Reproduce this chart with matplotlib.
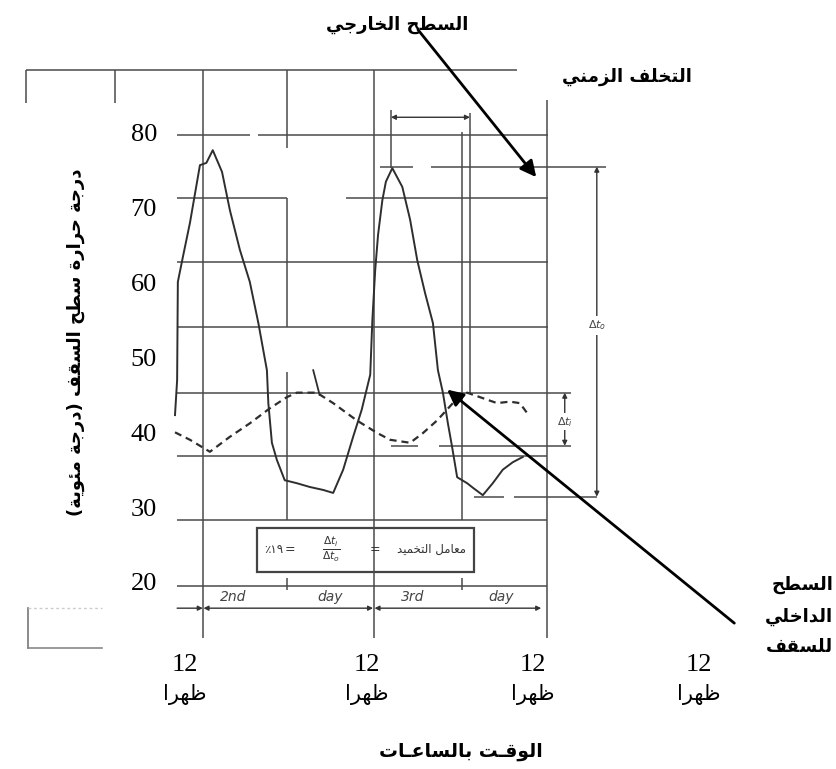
import matplotlib
matplotlib.use('Agg')
import matplotlib.pyplot as plt
from matplotlib.patches import Rectangle

# ---------------- Arabic shaping helpers (visual order) ----------------
FORMS = {
    'ء': ('\uFE80', None, None, None),
    'آ': ('\uFE81', '\uFE82', None, None),
    'أ': ('\uFE83', '\uFE84', None, None),
    'ؤ': ('\uFE85', '\uFE86', None, None),
    'إ': ('\uFE87', '\uFE88', None, None),
    'ئ': ('\uFE89', '\uFE8A', '\uFE8B', '\uFE8C'),
    'ا': ('\uFE8D', '\uFE8E', None, None),
    'ب': ('\uFE8F', '\uFE90', '\uFE91', '\uFE92'),
    'ة': ('\uFE93', '\uFE94', None, None),
    'ت': ('\uFE95', '\uFE96', '\uFE97', '\uFE98'),
    'ث': ('\uFE99', '\uFE9A', '\uFE9B', '\uFE9C'),
    'ج': ('\uFE9D', '\uFE9E', '\uFE9F', '\uFEA0'),
    'ح': ('\uFEA1', '\uFEA2', '\uFEA3', '\uFEA4'),
    'خ': ('\uFEA5', '\uFEA6', '\uFEA7', '\uFEA8'),
    'د': ('\uFEA9', '\uFEAA', None, None),
    'ذ': ('\uFEAB', '\uFEAC', None, None),
    'ر': ('\uFEAD', '\uFEAE', None, None),
    'ز': ('\uFEAF', '\uFEB0', None, None),
    'س': ('\uFEB1', '\uFEB2', '\uFEB3', '\uFEB4'),
    'ش': ('\uFEB5', '\uFEB6', '\uFEB7', '\uFEB8'),
    'ص': ('\uFEB9', '\uFEBA', '\uFEBB', '\uFEBC'),
    'ض': ('\uFEBD', '\uFEBE', '\uFEBF', '\uFEC0'),
    'ط': ('\uFEC1', '\uFEC2', '\uFEC3', '\uFEC4'),
    'ظ': ('\uFEC5', '\uFEC6', '\uFEC7', '\uFEC8'),
    'ع': ('\uFEC9', '\uFECA', '\uFECB', '\uFECC'),
    'غ': ('\uFECD', '\uFECE', '\uFECF', '\uFED0'),
    'ف': ('\uFED1', '\uFED2', '\uFED3', '\uFED4'),
    'ق': ('\uFED5', '\uFED6', '\uFED7', '\uFED8'),
    'ك': ('\uFED9', '\uFEDA', '\uFEDB', '\uFEDC'),
    'ل': ('\uFEDD', '\uFEDE', '\uFEDF', '\uFEE0'),
    'م': ('\uFEE1', '\uFEE2', '\uFEE3', '\uFEE4'),
    'ن': ('\uFEE5', '\uFEE6', '\uFEE7', '\uFEE8'),
    'ه': ('\uFEE9', '\uFEEA', '\uFEEB', '\uFEEC'),
    'و': ('\uFEED', '\uFEEE', None, None),
    'ى': ('\uFEEF', '\uFEF0', None, None),
    'ي': ('\uFEF1', '\uFEF2', '\uFEF3', '\uFEF4'),
    'ـ': ('ـ', 'ـ', 'ـ', 'ـ'),
}
LAM_ALEF = {'ا': ('\uFEFB', '\uFEFC'), 'أ': ('\uFEF7', '\uFEF8'),
            'إ': ('\uFEF9', '\uFEFA'), 'آ': ('\uFEF5', '\uFEF6')}
MIRROR = {'(': ')', ')': '('}


def _joins_next(c):
    return c in FORMS and FORMS[c][2] is not None


def _joins_prev(c):
    return c in FORMS and FORMS[c][1] is not None


def ar(s):
    out = []
    n = len(s)
    i = 0
    while i < n:
        c = s[i]
        if c == 'ل' and i + 1 < n and s[i + 1] in LAM_ALEF:
            pc = i > 0 and _joins_next(s[i - 1])
            out.append(LAM_ALEF[s[i + 1]][1 if pc else 0])
            i += 2
            continue
        if c not in FORMS:
            out.append(MIRROR.get(c, c))
            i += 1
            continue
        p = i > 0 and _joins_next(s[i - 1]) and _joins_prev(c)
        q = i + 1 < n and _joins_next(c) and _joins_prev(s[i + 1])
        f = FORMS[c]
        if p and q:
            out.append(f[3])
        elif p:
            out.append(f[1])
        elif q:
            out.append(f[2])
        else:
            out.append(f[0])
        i += 1
    return ''.join(out[::-1])


# ---------------- data ----------------
# outer (external) roof surface temperature, solid line
outer_hours = [-1.4, -1.1, -1.0, -0.3, 0.7, 2.1, 3.0, 3.9, 5.2, 6.3, 7.7, 9.1,
               10.3, 11.5, 11.7, 12.2, 12.9, 14.0, 15.7, 17.5, 19.4, 20.8,
               22.2, 23.6, 24.8, 26.0, 26.3, 26.7, 27.1, 27.7, 28.2, 29.1,
               30.5, 31.6, 32.6, 33.7, 34.8, 35.5, 36.2, 36.9, 37.5, 38.2,
               39.6, 40.4, 41.8, 43.2, 44.6, 46.0, 47.4]
outer_temp = [42.3, 47.0, 60.1, 63.4, 68.0, 75.7, 76.0, 77.7, 74.8, 69.7, 64.4,
              60.1, 54.6, 48.3, 43.9, 38.6, 36.3, 33.6, 33.2, 32.7, 32.3, 31.9,
              35.0, 39.4, 43.0, 47.7, 55.0, 61.7, 66.4, 71.0, 73.5, 75.3, 72.8,
              68.4, 63.0, 58.6, 54.6, 48.3, 45.3, 41.2, 38.0, 34.0, 33.2, 32.6,
              31.6, 33.2, 35.0, 36.0, 36.7]
outer_piece_hours = [18.0, 18.9]
outer_piece_temp = [48.3, 45.0]

# inner (internal) roof surface temperature, dashed line
inner_hours = [-1.4, 0.7, 3.5, 6.3, 9.1, 11.9, 14.3, 15.7, 18.5, 20.8, 24.1,
               27.0, 28.8, 31.6, 33.4, 35.4, 37.6, 39.6, 41.4, 43.8, 45.6,
               47.0, 48.0]
inner_temp = [40.0, 39.0, 37.4, 39.4, 41.2, 43.2, 44.7, 45.3, 45.3, 43.9, 41.6,
              39.9, 39.0, 38.6, 39.9, 41.6, 43.9, 45.3, 44.7, 43.9, 44.1, 43.9,
              42.6]

y_ticks = [20, 30, 40, 50, 60, 70, 80]
x_tick_hours = [0, 25.5, 48.8, 72.1]
x_tick_labels = ['12', '12', '12', '12']
noon_word = 'ظهرا'

# scanned chart grid (temperature level, list of hour spans)
h_grid = [
    (88.4, [(-22.3, 46.6)]),
    (79.7, [(-1.1, 9.1), (10.3, 50.9)]),
    (75.5, [(27.4, 32.0), (34.5, 59.1)]),
    (71.3, [(-1.1, 14.3), (22.6, 50.9)]),
    (62.8, [(-1.1, 50.9)]),
    (54.1, [(-1.1, 50.9)]),
    (45.3, [(-1.1, 54.2)]),
    (38.2, [(28.9, 32.7), (35.6, 54.2)]),
    (36.8, [(-1.1, 50.8)]),
    (31.4, [(40.6, 44.8), (46.2, 57.8)]),
    (28.3, [(-1.1, 50.8)]),
    (19.5, [(-1.1, 50.8)]),
]
# (hour position, list of temperature spans)
v_grid = [
    (-22.3, [(84.0, 88.4)]),
    (-9.8, [(84.0, 88.4)]),
    (2.5, [(12.5, 88.4)]),
    (14.3, [(78.0, 88.4), (54.1, 71.3), (28.3, 48.1), (18.9, 20.5)]),
    (26.5, [(12.5, 88.4)]),
    (28.9, [(75.3, 83.1)]),
    (38.9, [(28.3, 80.1), (18.9, 20.5)]),
    (40.0, [(45.3, 82.7)]),
    (50.8, [(12.5, 84.4)]),
]

# ---------------- figure ----------------
fig = plt.figure(figsize=(8.36, 7.69), dpi=100)
ax = fig.add_axes([0, 0, 1, 1])
ax.set_xlim(-25.96, 91.37)
ax.set_ylim(-4.99, 97.77)
for s in ax.spines.values():
    s.set_visible(False)
ax.set_facecolor('white')

grid_c = '#4a4a4a'
for t, spans in h_grid:
    for a, b in spans:
        ax.plot([a, b], [t, t], color=grid_c, lw=1.1, solid_capstyle='butt')
for h, spans in v_grid:
    for a, b in spans:
        ax.plot([h, h], [a, b], color=grid_c, lw=1.1, solid_capstyle='butt')

# remnant of small scanned axes at lower left
ax.plot([-22.0, -22.0], [11.2, 16.5], color='#777777', lw=1.2)
ax.plot([-22.0, -11.6], [11.2, 11.2], color='#888888', lw=1.2)
ax.plot([-22.0, -11.6], [16.5, 16.5], color='#cccccc', lw=1.0, ls=(0, (2, 2)))

# curves
ax.plot(outer_hours, outer_temp, color='#2e2e2e', lw=1.4)
ax.plot(outer_piece_hours, outer_piece_temp, color='#2e2e2e', lw=1.3)
ax.plot(inner_hours, inner_temp, color='#2e2e2e', lw=1.6, ls=(0, (3.2, 2.2)))

# dimension arrows of the scanned chart
small = dict(color='#333333', lw=1.0, shrinkA=0, shrinkB=0, mutation_scale=7)
ax.annotate('', xy=(57.8, 75.5), xytext=(57.8, 31.4),
            arrowprops=dict(arrowstyle='<|-|>', **small))
ax.text(57.8, 54.3, r'$\Delta t_o$', fontsize=8, color='#444444',
        ha='center', va='center',
        bbox=dict(boxstyle='square,pad=0.25', fc='white', ec='none'))
ax.annotate('', xy=(53.3, 45.3), xytext=(53.3, 38.2),
            arrowprops=dict(arrowstyle='<|-|>', **small))
ax.text(53.3, 41.4, r'$\Delta t_i$', fontsize=8, color='#444444',
        ha='center', va='center',
        bbox=dict(boxstyle='square,pad=0.15', fc='white', ec='none'))
ax.annotate('', xy=(40.0, 82.1), xytext=(28.9, 82.1),
            arrowprops=dict(arrowstyle='<|-|>', **small))
ax.annotate('', xy=(2.5, 16.5), xytext=(-1.1, 16.5),
            arrowprops=dict(arrowstyle='-|>', **small))
ax.annotate('', xy=(26.4, 16.5), xytext=(2.6, 16.5),
            arrowprops=dict(arrowstyle='<|-|>', **small))
ax.annotate('', xy=(50.0, 16.5), xytext=(26.6, 16.5),
            arrowprops=dict(arrowstyle='<|-|>', **small))
hand = dict(fontsize=10, color='#444444', style='italic', ha='center', va='center')
ax.text(6.7, 18.0, '2nd', **hand)
ax.text(20.4, 18.0, 'day', **hand)
ax.text(32.0, 18.0, '3rd', **hand)
ax.text(44.4, 18.0, 'day', **hand)

# formula box
ax.add_patch(Rectangle((10.1, 21.3), 30.5, 5.9, fill=False, ec='#444444', lw=1.6))
ax.text(34.6, 24.3, ar('معامل التخميد'), fontsize=8.5, color='#333333',
        ha='center', va='center', family='DejaVu Sans')
ax.text(26.7, 24.3, '=', fontsize=9, color='#333333', ha='center', va='center')
ax.text(20.5, 24.3, r'$\frac{\Delta t_i}{\Delta t_o}$', fontsize=11,
        color='#333333', ha='center', va='center')
ax.text(14.7, 24.3, '=', fontsize=9, color='#333333', ha='center', va='center')
ax.text(12.4, 24.3, '٪١٩', fontsize=8.5, color='#333333', ha='center',
        va='center', family='DejaVu Sans')

# ticks
ax.set_yticks(y_ticks)
ax.set_yticklabels([str(t) for t in y_ticks], fontsize=19, family='Liberation Serif')
ax.tick_params(axis='y', length=0, pad=-113)
ax.set_xticks(x_tick_hours)
ax.set_xticklabels(x_tick_labels, fontsize=19, family='Liberation Serif')
ax.tick_params(axis='x', length=0, pad=-83)
for h in x_tick_hours:
    ax.text(h, 4.9, ar(noon_word), fontsize=15, family='DejaVu Sans',
            ha='center', va='center')

# annotation labels and arrows
lab = dict(fontsize=13, fontweight='bold', family='DejaVu Sans', color='black')
ax.text(29.8, 94.4, ar('السطح الخارجي'), ha='center', va='center', **lab)
ax.text(62.0, 87.5, ar('التخلف الزمني'), ha='center', va='center', **lab)
ax.text(-15.3, 52.1, ar('درجة حرارة سطح السقف (درجة مئوية)'), rotation=90,
        ha='center', va='center', **lab)
for t, w in zip([19.6, 15.3, 11.3], ['السطح', 'الداخلي', 'للسقف']):
    ax.text(91.0, t, ar(w), ha='right', va='center', **lab)
ax.text(38.7, -2.7, ar('الوقـت بالساعـات'), ha='center', va='center',
        **{**lab, 'fontsize': 13.5})

big = dict(arrowstyle='-|>', color='black', lw=2.0, mutation_scale=24,
           shrinkA=0, shrinkB=0)
ax.annotate('', xy=(49.3, 74.1), xytext=(32.7, 93.8), arrowprops=big)
ax.annotate('', xy=(36.8, 45.7), xytext=(77.1, 14.5), arrowprops=big)

fig.savefig('out.png', dpi=100, facecolor='white')
